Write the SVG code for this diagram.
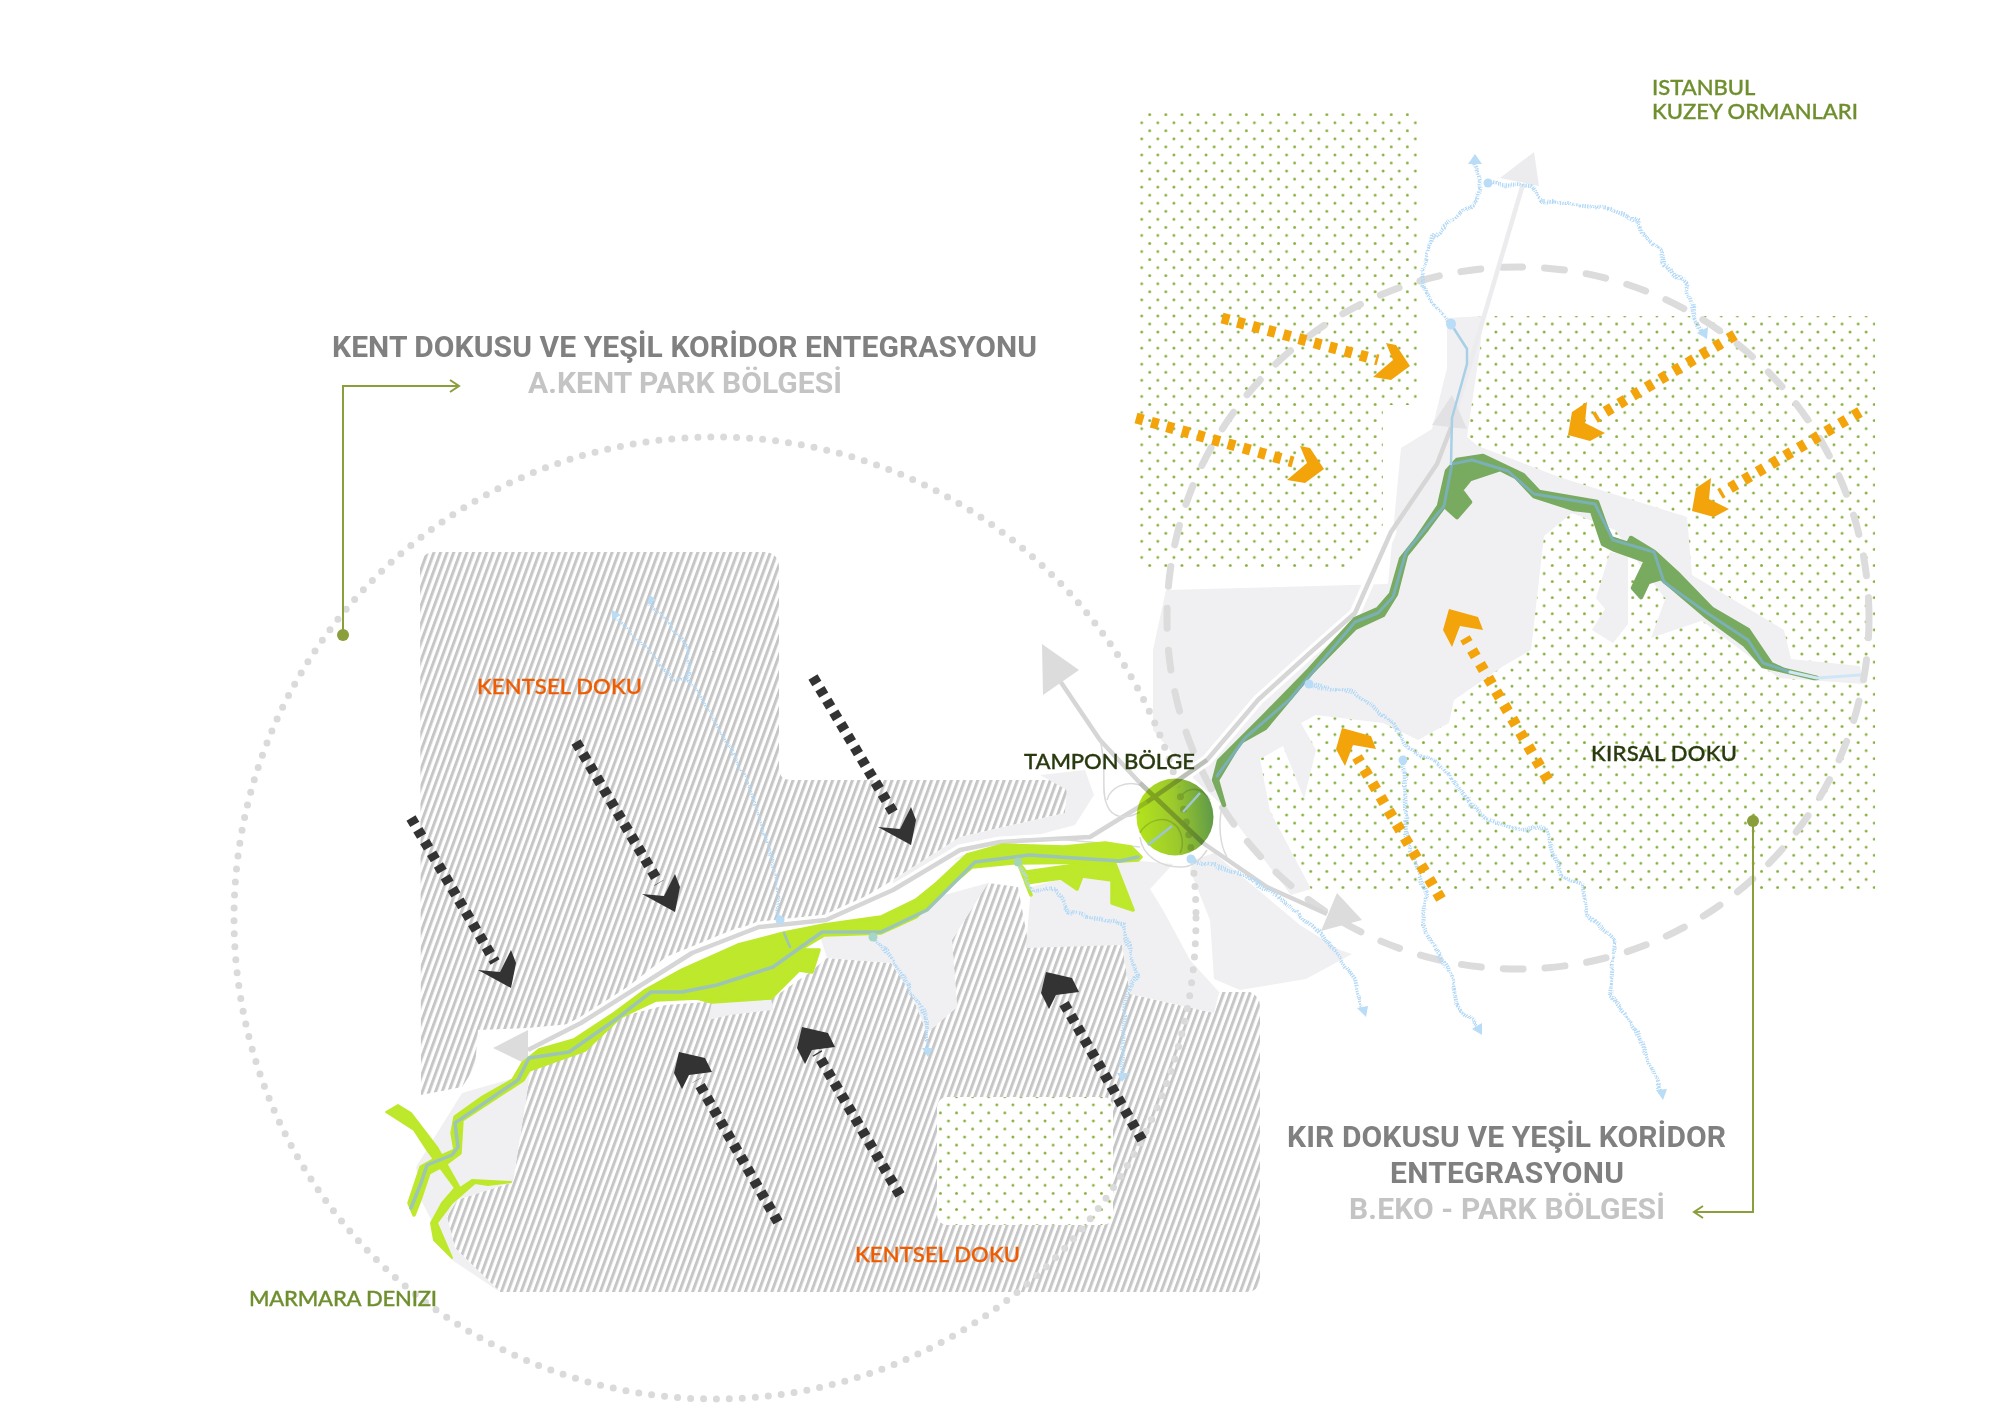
<svg xmlns="http://www.w3.org/2000/svg" width="2000" height="1413" viewBox="0 0 2000 1413">
<style>
.grey{fill:#f0f0f2}
.bright{fill:#bde82b;stroke:#bde82b;stroke-width:3.5;stroke-linejoin:round}
.dark{fill:#78aa5f;stroke:#78aa5f;stroke-width:4.5;stroke-linejoin:round}
.dots{fill:url(#dots)}
.hatch{fill:url(#hatch)}
.riv{fill:none;stroke-linejoin:round;stroke-linecap:round}
.mini{fill:none;stroke:#b3d9f7;stroke-width:4;stroke-dasharray:1.4 1.1;stroke-linejoin:round;filter:url(#wig)}
.bl{fill:#b9dcf7}
.road{fill:none;stroke:#d6d6d6;stroke-width:4.5;stroke-linejoin:round}
.thin{fill:none;stroke:#dadada;stroke-width:1.5}
.head{fill:#dcdcdc}
.da{fill:none;stroke:#333;stroke-width:10.5;stroke-dasharray:7.5 6.1}
.oa{fill:none;stroke:#f2a40a;stroke-width:11;stroke-dasharray:7.5 8.4}
.cd{fill:#333}
.co{fill:#f2a40a}
.lb{font-family:Lato,"Open Sans","Liberation Sans",sans-serif;font-size:22px;font-weight:500;stroke-width:.35}
.ti{font-family:Roboto,"Liberation Sans",sans-serif;font-size:30px;font-weight:700}
.tc{fill:#808080}
.tl{fill:#c4c4c4}
.lead{fill:none;stroke:#8a9e3c;stroke-width:2}
</style>
<defs>
<pattern id="dots" patternUnits="userSpaceOnUse" x="1141.7" y="122.7" width="16.1" height="16.1">
<circle cx="0" cy="0" r="1.45" fill="#86ae3c"/><circle cx="16.1" cy="0" r="1.45" fill="#86ae3c"/><circle cx="0" cy="16.1" r="1.45" fill="#86ae3c"/><circle cx="16.1" cy="16.1" r="1.45" fill="#86ae3c"/><circle cx="8.05" cy="8.05" r="1.45" fill="#86ae3c"/>
</pattern>
<pattern id="hatch" patternUnits="userSpaceOnUse" width="6.2" height="20" patternTransform="rotate(20)">
<rect width="6.2" height="20" fill="#fff"/><rect width="3" height="20" fill="#c6c6c6"/>
</pattern>
<linearGradient id="ball" x1="0" y1="0.55" x2="1" y2="0.45"><stop offset="0" stop-color="#b4e41c"/><stop offset="0.5" stop-color="#9cc92c"/><stop offset="1" stop-color="#5f9a48"/></linearGradient>
<filter id="wig" filterUnits="userSpaceOnUse" x="0" y="0" width="2000" height="1413"><feTurbulence type="fractalNoise" baseFrequency="0.07" numOctaves="2" seed="4"/><feDisplacementMap in="SourceGraphic" scale="7" xChannelSelector="R" yChannelSelector="G"/></filter>
<polygon id="chdd" class="cd" points="0,-38 5,-25 0,0 -33,-18 -11,-16"/>
<polygon id="chdu" class="cd" points="0,0 26,6 33,20 10,23 3,37 -5,21"/>
<polygon id="chor" class="co" points="-24,-23 -14,-21 0,0 -19,14 -37,11 -17,-6"/>
<polygon id="chol" class="co" points="19,-33 4,-23 0,0 22,6 37,-2 17,-12"/>
<polygon id="chou" class="co" points="0,0 29,8 34,21 11,17 3,38 -6,21"/>
</defs>
<rect width="2000" height="1413" fill="#fff"/>

<g id="rural-texture">
<polygon class="dots" points="1138,113 1417,113 1417,405 1383,405 1383,525 1350,570 1138,570"/>
<polygon class="dots" points="1467,316 1875,316 1875,891 1311,891 1265,810 1260,757 1300,720 1467,700"/>
</g>

<g id="urban-texture">
<path class="hatch" d="M420,568Q420,552 436,552L763,552Q779,552 779,568L779,768Q779,780 791,780L1052,780Q1067,780 1067,795L1065,813L960,837L893,880L826,920L737,928L666,957L581,1023L528,1028L478,1030L475,1067L462,1087L421,1095Z"/>
<path class="hatch" d="M500,1292L455,1248L447,1217L457,1200L513,1182L531,1067L585,1050L620,1017L666,1005L707,1002L773,998L809,973L827,958L891,963L911,993L927,1033L957,1007L952,940L988,883L1018,887L1029,947L1059,932L1115,937L1122,945L1130,994L1214,1013L1219,992L1250,992Q1260,996 1260,1006L1260,1278Q1260,1292 1245,1292Z"/>
<rect id="park-plot" x="937" y="1097" width="176" height="128" rx="10" fill="#fff"/>
<rect x="937" y="1097" width="176" height="128" rx="10" class="dots"/>
</g>

<g id="grey-corridor">
<polygon class="grey" points="1447,318 1483,316 1480,349 1467,437 1478,446 1559,477 1687,517 1692,575 1784,630 1791,659 1860,666 1863,684 1779,678 1758,663 1697,617 1664,597 1640,565 1615,530 1572,513 1544,536 1531,650 1505,665 1454,700 1449,723 1418,740 1383,723 1316,715 1301,723 1316,750 1304,799 1283,746 1260,759 1270,811 1311,889 1291,895 1224,807 1195,780 1153,730 1153,650 1166,590 1388,584 1401,448 1432,429 1447,368"/>
<polygon class="grey" points="1610,552 1628,555 1628,624 1613,643 1592,630 1605,609 1596,598"/>
<polygon class="grey" points="1666,597 1707,619 1651,638"/>
<polygon class="grey" points="1194,860 1214,853 1300,925 1340,950 1352,954 1306,979 1240,990 1214,979 1210,920 1190,870"/>
<polygon class="grey" points="1031,887 1026,948 1122,945 1130,994 1214,1013 1219,992 1190,960 1163,910 1150,889 1173,864 1130,860"/>
<polygon class="grey" points="462,1093 518,1077 531,1067 513,1182 457,1200 447,1217 455,1248 500,1292 452,1260 421,1200 416,1167"/>
<polygon class="grey" points="827,958 891,963 911,993 927,1033 957,1007 952,940 988,883 937,897 881,933 819,933"/>
<polygon class="grey" points="893,880 960,837 1065,813 1067,790 1040,775 1085,770 1094,795 1075,825 1000,845 940,865 893,895"/>
<polygon class="grey" points="712,1002 771,998 773,1010 730,1015 708,1020"/>
</g>

<g id="circles">
<circle cx="715" cy="918" r="481" fill="none" stroke="#dadada" stroke-width="7" stroke-linecap="round" stroke-dasharray="0 13"/>
<circle cx="1518" cy="618" r="351" fill="none" stroke="#dcdcdc" stroke-width="7" stroke-linecap="round" stroke-dasharray="20 22"/>
</g>

<g id="connectors">
<polyline class="riv" stroke="#fff" stroke-width="11" points="1391,532 1355,613 1311,652 1258,700 1207,760 1147,802 1090,837 1000,842 960,850 893,890 826,920 759,927 692,953 581,1023 528,1050"/>
<polyline class="road" style="stroke:#ececee" points="1523,184 1452,425"/>
<polyline class="road" points="1452,425 1437,464 1391,532 1355,613 1311,652 1258,700 1207,760 1147,802 1090,837 1000,842 960,850 893,890 826,920 759,927 692,953 581,1023 528,1050"/>
<polyline class="road" points="1056,675 1100,740 1140,783 1203,843 1267,887 1327,914"/>
<polygon points="1534,152 1539,186 1500,178" fill="#ececee"/>
<polygon points="1432,425 1452,395 1467,429" fill="#e2e2e4"/>
<polygon class="head" points="1042,644 1043,695 1079,670"/>
<polygon class="head" points="1337,893 1362,920 1321,931"/>
<polygon class="head" points="493,1048 528,1030 528,1065"/>
<path class="thin" d="M1100,740C1108,770 1100,790 1107,805C1112,818 1125,820 1140,812M1140,785C1125,780 1110,788 1107,800"/>
<path class="thin" d="M1140,837C1142,855 1160,868 1183,867C1195,866 1202,858 1207,850"/>
<path class="thin" d="M1140,833C1145,822 1165,812 1178,828C1184,838 1183,848 1180,853"/>
<path class="thin" d="M1180,797C1190,785 1203,788 1210,800"/>
<path class="thin" d="M1222,807C1218,825 1220,845 1227,857"/>
<path class="thin" d="M1000,842C1040,835 1085,842 1140,847"/>
</g>

<g id="green-corridor">
<polygon class="dark" points="1817,678 1784,670 1771,664 1748,630 1712,609 1679,575 1654,552 1631,538 1628,544 1610,538 1597,502 1539,492 1523,475 1483,456 1457,460 1447,471 1439,506 1416,540 1401,559 1391,594 1378,609 1355,619 1309,670 1265,715 1219,761 1214,780 1224,805 1217,780 1240,742 1265,728 1311,673 1355,628 1383,615 1396,594 1406,555 1427,529 1447,502 1447,508 1457,517 1470,502 1461,490 1470,479 1500,469 1516,477 1534,496 1574,509 1592,511 1603,544 1615,550 1646,561 1633,588 1641,597 1648,582 1661,578 1707,617 1745,645 1763,666 1814,678"/>
<polygon class="bright" points="1141,857 1131,847 1105,843 1064,847 1003,845 967,855 937,883 916,900 881,917 824,925 784,933 738,945 682,970 646,990 615,1013 574,1040 539,1050 523,1063 513,1080 483,1097 455,1117 452,1133 455,1150 437,1158 421,1167 409,1203 414,1215 421,1197 429,1173 444,1165 460,1153 462,1120 523,1080 529,1070 585,1050 620,1017 656,1000 697,998 712,1002 771,998 799,970 812,972 819,950 799,950 824,935 881,933 916,917 937,897 972,867 1013,863 1105,862 1138,860"/>
<polygon class="bright" points="1018,862 1026,872 1097,862 1115,864 1133,910 1112,903 1112,880 1082,876 1077,889 1061,878 1026,883 1031,895"/>
<polygon class="bright" style="stroke-width:2" points="386,1112 398,1105 411,1113 437,1147 460,1188 472,1180 511,1182 488,1185 475,1183 452,1203 437,1223 452,1258 434,1240 431,1223 442,1203 455,1188 427,1150 414,1130"/>
<polyline class="riv" stroke="#9cc5b5" stroke-width="3.5" points="411,1208 421,1183 427,1165 452,1155 458,1147 455,1123 518,1080 529,1058 569,1052 615,1020 651,992 682,992 717,985 773,967 822,932 881,932 927,910 975,862 1029,855 1120,861 1138,857"/>
<polyline class="riv" stroke="#9cc5b5" stroke-width="2.5" points="784,933 790,947"/>
<polyline class="riv" stroke="#7bb0b5" stroke-width="3" points="1472,460 1508,471 1534,494 1595,504 1613,540 1654,552 1664,582 1707,613 1748,640 1763,663 1790,672"/>
<polyline class="riv" stroke="#cfe6f7" stroke-width="3" points="1790,672 1817,678 1860,675"/>
<polyline class="riv" stroke="#7bb0b5" stroke-width="3" points="1472,460 1452,464 1444,506 1406,552 1393,597 1378,613 1355,622 1289,700 1245,738 1217,776"/>
<polyline class="riv" stroke="#a7cfe6" stroke-width="2.5" points="1451,324 1467,349 1467,364 1452,418 1451,464"/>
</g>

<g id="streams">
<path class="mini" d="M1451,324L1427,295L1421,272L1432,238L1457,217L1478,200L1480,180L1475,163"/>
<path class="mini" d="M1488,183L1531,186L1541,201L1610,209L1638,221L1641,234L1661,251L1664,265L1687,284L1694,318L1702,333"/>
<path class="mini" d="M1309,684L1357,694L1395,725L1408,749L1439,763L1469,801L1485,818L1520,830L1546,828L1561,876L1582,883L1587,914L1615,941L1610,994L1638,1033L1661,1092"/>
<path class="mini" d="M1403,760L1406,834L1426,895L1423,925L1452,979L1457,1006L1477,1027"/>
<path class="mini" d="M1191,859L1245,876L1286,903L1321,933L1355,979L1362,1010"/>
<path class="mini" d="M1018,862L1031,891L1056,889L1069,912L1122,924L1138,975L1125,994L1122,1077"/>
<path class="mini" d="M873,937L893,960L922,1010L927,1017L927,1053"/>
<path class="mini" style="stroke-width:2.8" d="M780,920L773,863L751,790L713,717L688,677L688,647L650,603"/>
<path class="mini" style="stroke-width:2.8" d="M688,680L675,680L648,650L617,618"/>
<polygon class="bl" points="1475,154 1468,164 1482,164"/>
<polygon class="bl" points="1707,339 1697,333 1708,327"/>
<polygon class="bl" points="1663,1100 1656,1090 1667,1089"/>
<polygon class="bl" points="1482,1035 1472,1029 1482,1023"/>
<polygon class="bl" points="1366,1017 1357,1008 1368,1006"/>
<polygon class="bl" points="1122,1082 1117,1073 1129,1073"/>
<polygon class="bl" points="928,1057 922,1048 933,1048"/>
<polygon class="bl" points="650,595 647,605 656,600"/>
<polygon class="bl" points="612,610 612,620 621,615"/>
<ellipse class="bl" cx="1451" cy="324" rx="5" ry="5.5"/>
<circle class="bl" cx="1488" cy="183" r="4.5"/>
<circle class="bl" cx="1309" cy="684" r="4.5"/>
<circle class="bl" cx="1403" cy="760" r="4.5"/>
<circle class="bl" cx="1191" cy="859" r="4.5"/>
<circle class="bl" cx="780" cy="920" r="4.5"/>
<circle cx="1018" cy="862" r="4.5" fill="#a5d6b0"/>
<circle cx="873" cy="937" r="4.5" fill="#a5d6c8"/>
</g>

<g id="buffer-hub">
<circle cx="1175" cy="817" r="38.5" fill="url(#ball)" style="mix-blend-mode:multiply"/>
<path d="M1140,783L1203,843M1147,802L1207,760" fill="none" stroke="#4a5a30" stroke-opacity="0.18" stroke-width="5"/>
<path d="M1183,812L1200,793M1148,845L1172,826" fill="none" stroke="#9fc6d0" stroke-width="2.5"/>
</g>

<g id="dark-arrows">
<line class="da" x1="411" y1="818" x2="495" y2="962"/><use href="#chdd" x="511" y="988"/>
<line class="da" x1="576" y1="742" x2="659" y2="883"/><use href="#chdd" x="675" y="912"/>
<line class="da" x1="813" y1="677" x2="896" y2="817"/><use href="#chdd" x="911" y="845"/>
<line class="da" x1="778" y1="1222" x2="697" y2="1080"/><use href="#chdu" x="679" y="1052"/>
<line class="da" x1="900" y1="1195" x2="817" y2="1053"/><use href="#chdu" x="802" y="1027"/>
<line class="da" x1="1142" y1="1140" x2="1062" y2="1000"/><use href="#chdu" x="1046" y="972"/>
</g>

<g id="orange-arrows">
<line class="oa" x1="1222" y1="318" x2="1378" y2="360"/><use href="#chor" x="1410" y="366"/>
<line class="oa" x1="1136" y1="418" x2="1293" y2="462"/><use href="#chor" x="1324" y="469"/>
<line class="oa" x1="1735" y1="335" x2="1595" y2="418"/><use href="#chol" x="1568" y="435"/>
<line class="oa" x1="1860" y1="412" x2="1720" y2="494"/><use href="#chol" x="1692" y="511"/>
<line class="oa" x1="1548" y1="780" x2="1465" y2="638"/><use href="#chou" x="1449" y="609"/>
<line class="oa" x1="1441" y1="899" x2="1357" y2="757"/><use href="#chou" x="1342" y="728"/>
</g>

<g id="leaders">
<circle cx="343" cy="635" r="6" fill="#8a9e3c"/>
<path class="lead" d="M343,635V386H458M450,380L459,386L450,392"/>
<circle cx="1753" cy="821" r="6" fill="#8a9e3c"/>
<path class="lead" d="M1753,821V1212H1695M1703,1206L1694,1212L1703,1218"/>
</g>

<g id="labels">
<text class="lb" x="1652" y="95" fill="#6f8f2e" stroke="#6f8f2e">ISTANBUL</text>
<text class="lb" x="1652" y="119" fill="#6f8f2e" stroke="#6f8f2e" textLength="206">KUZEY ORMANLARI</text>
<text class="lb" x="477" y="694" fill="#ef5c00" stroke="#ef5c00" textLength="165">KENTSEL DOKU</text>
<text class="lb" x="855" y="1262" fill="#ef5c00" stroke="#ef5c00" textLength="165">KENTSEL DOKU</text>
<text class="lb" x="1024" y="769" fill="#2a3a10" stroke="#2a3a10" textLength="171">TAMPON BÖLGE</text>
<text class="lb" x="1591" y="761" fill="#2a3a10" stroke="#2a3a10" textLength="146">KIRSAL DOKU</text>
<text class="lb" x="249" y="1306" fill="#6f8f2e" stroke="#6f8f2e" textLength="188">MARMARA DENIZI</text>
<text class="ti tc" x="332" y="357" textLength="705">KENT DOKUSU VE YEŞİL KORİDOR ENTEGRASYONU</text>
<text class="ti tl" x="528" y="393" textLength="314">A.KENT PARK BÖLGESİ</text>
<text class="ti tc" x="1287" y="1147" textLength="439">KIR DOKUSU VE YEŞİL KORİDOR</text>
<text class="ti tc" x="1390" y="1183" textLength="234">ENTEGRASYONU</text>
<text class="ti tl" x="1349" y="1219" textLength="316">B.EKO - PARK BÖLGESİ</text>
</g>
</svg>
